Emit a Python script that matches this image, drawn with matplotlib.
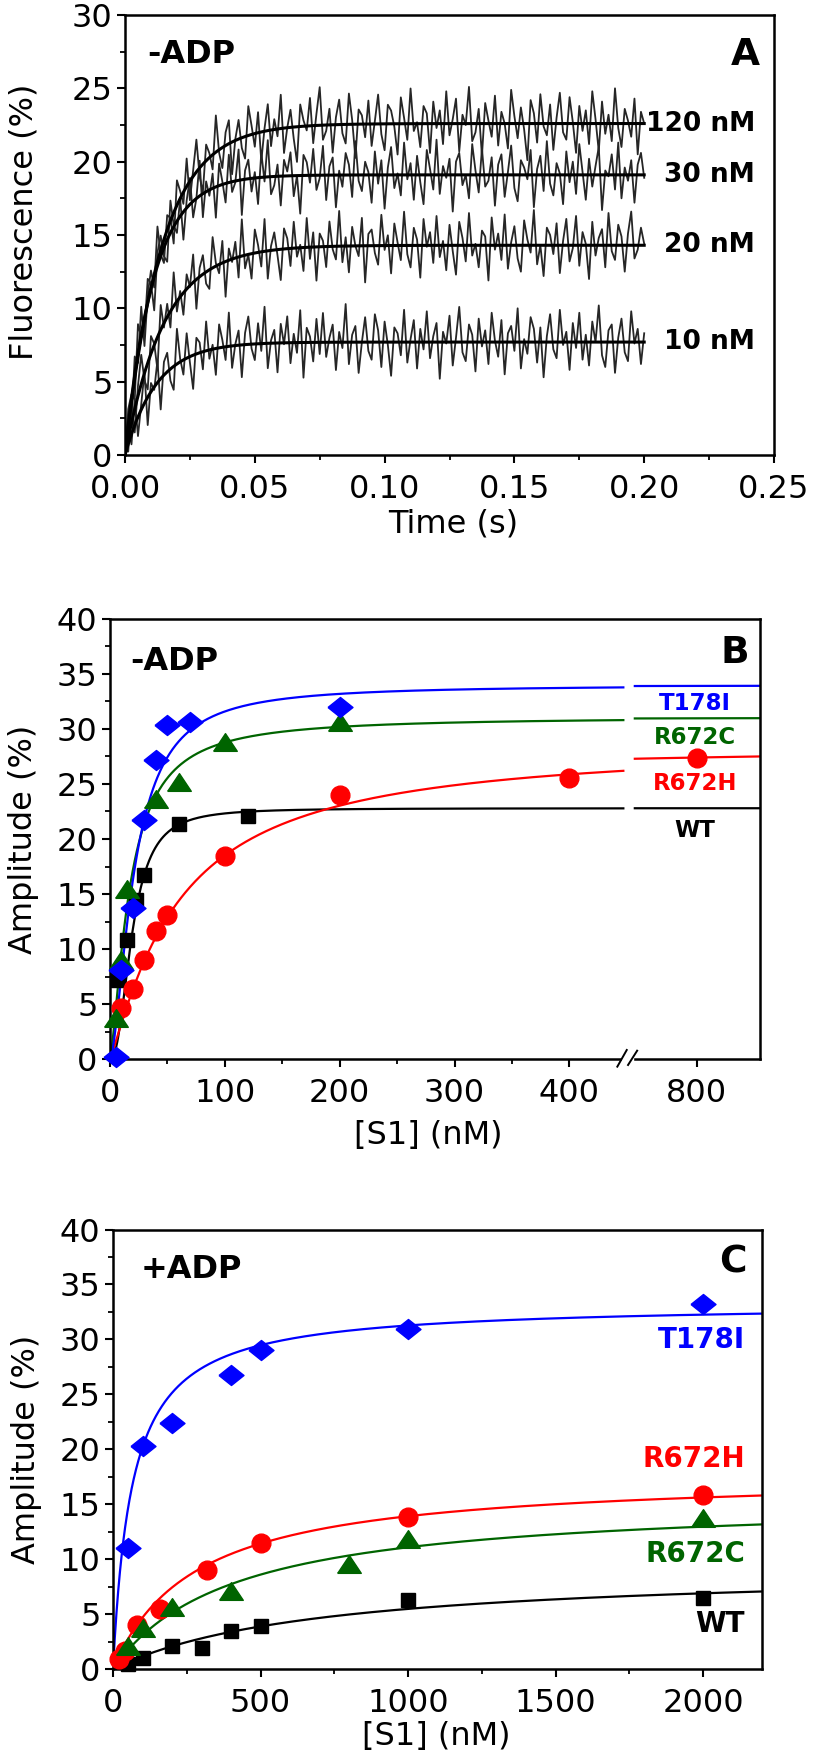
import numpy as np
import matplotlib
matplotlib.use("Agg")
import matplotlib.pyplot as plt
from matplotlib.patches import Rectangle

plt.rcParams["font.family"] = ["DejaVu Sans"]

# ── Panel A: stopped-flow traces, -ADP ─────────────────────────────
conc_labels = ["120 nM", "30 nM", "20 nM", "10 nM"]
trace_amp   = [22.6, 19.1, 14.3, 7.7]     # fitted plateau (%)
trace_rate  = [70, 90, 66, 82]            # fitted k_obs (1/s)

# residuals of each trace around its fit
dev_120 = [0.0, 0.8, -1.2, 1.5, -0.4, 2.1, -1.8, 0.6, 1.2, -0.9, 2.4, -0.3, -1.6, 1.0, 0.2, -2.1, 1.7, 0.5, -0.8, 1.9,
           -1.3, 0.4, 2.2, -0.6, -1.9, 1.1, 0.3, -1.0, 2.5, -0.2, -1.4, 0.9, 1.6, -2.2, 0.1, 1.3, -0.7, -1.5, 2.0, 0.6,
           -0.9, 1.4, -2.0, 0.2, 1.8, -1.1, 0.7, -0.5, 2.3, -1.7, 0.0, 1.2, -0.8, -2.4, 1.5, 0.4, -0.3, 1.9, -1.2, 0.8,
           2.6, -1.0, -0.4, 1.1, -1.9, 0.5, 1.7, -0.6, -1.3, 2.1, 0.3, -2.3, 1.0, 0.6, -0.9, 1.6, -1.5, 0.2, 2.0, -0.7,
           -1.8, 1.3, 0.9, -0.2, -2.1, 1.8, 0.4, -1.1, 2.4, -0.5, 0.1, -1.6, 1.2, 0.7, -2.0, 1.5, -0.3, 0.9, -1.4, 2.2,
           -0.8, 0.3, 1.7, -1.9, 0.6, -0.1, 2.5, -1.2, -0.6, 1.0, -2.2, 1.4, 0.2, -0.9, 1.9, -1.5, 0.8, 0.0, -1.7, 2.3,
           0.5, -1.0, 1.1, -0.4, -2.5, 1.6, 0.7, -1.3, 2.0, -0.2, -0.8, 1.3, -1.8, 0.4, 2.1, -0.6, -1.1, 1.8, 0.1, -2.0,
           1.2, -0.5, 0.9, -1.4, 2.2, 0.3, -1.9, 1.5, -0.7, 0.6, -1.2, 2.4, -0.3, -1.6, 1.0, 0.2, -0.9, 1.7, -2.1, 0.8, 0.0]
dev_30 = [-0.5, 1.1, 0.3, -1.7, 2.0, -0.2, -1.0, 1.6, 0.4, -2.3, 0.9, 1.4, -0.6, -1.5, 2.2, 0.1, -0.8, 1.2, -1.9, 0.5,
          1.8, -1.1, 0.0, 2.4, -1.6, 0.7, -0.4, 1.0, -2.1, 1.5, 0.2, -1.3, 1.9, -0.7, -0.1, 2.1, -2.4, 0.6, 1.3, -0.9,
          0.4, -1.8, 1.7, -0.3, 2.5, -1.2, -0.6, 0.8, -2.0, 1.1, 0.3, 1.6, -1.4, 0.0, -2.6, 1.4, 0.9, -0.5, 1.8, -1.0,
          -0.2, 2.0, -1.7, 0.6, 1.2, -2.2, 0.3, -0.8, 1.5, 0.7, -1.5, 2.3, -0.4, -1.1, 0.9, 0.2, -1.9, 1.6, -0.6, 1.0,
          -2.3, 0.5, 1.9, -0.9, 0.1, -1.4, 2.2, -0.3, 0.8, -1.7, 1.3, -0.5, -2.0, 1.7, 0.4, -1.0, 2.4, -1.3, 0.6, -0.2,
          1.1, -2.5, 0.9, 1.5, -0.7, 0.0, -1.6, 2.1, 0.3, -1.2, 1.8, -0.8, -0.4, 1.2, -2.1, 0.7, 1.4, -1.5, 0.2, 2.0,
          -0.9, -1.8, 1.0, 0.5, -0.3, 1.7, -2.2, 0.4, 1.3, -1.1, 2.3, -0.6, -1.4, 0.8, 0.1, -2.0, 1.6, -0.5, 0.9, -1.3,
          2.1, 0.2, -1.7, 1.1, -0.8, 0.6, 1.9, -2.4, 0.3, -0.1, 1.4, -1.0, 2.2, -1.6, 0.5, -0.4, 1.0, -1.9, 0.7, 1.5, -0.2]
dev_20 = [0.3, -0.9, 1.4, -1.6, 0.7, 2.0, -0.5, -1.8, 1.2, 0.1, -2.2, 1.7, -0.3, 0.9, -1.1, 2.3, -0.7, 0.4, -1.5, 1.0,
          -0.1, 1.9, -2.0, 0.6, 1.3, -0.8, -1.3, 2.1, 0.2, -0.6, 1.5, -2.4, 0.8, -0.2, 1.1, -1.4, 2.5, -0.9, 0.0, -1.7,
          1.6, 0.5, -1.0, 2.2, -1.9, 0.3, 1.2, -0.4, -2.1, 1.4, 0.7, -1.2, 1.8, -0.6, 0.2, -1.6, 2.0, -0.8, 1.0, -2.3,
          0.9, 0.4, -1.4, 1.7, -0.2, -0.9, 2.4, -1.1, 0.6, -1.8, 1.3, 0.0, -0.7, 1.9, -2.5, 0.8, 1.1, -0.5, -1.3, 2.1,
          -0.3, 0.7, -1.9, 1.5, 0.2, -1.0, 2.3, -0.6, -1.5, 1.2, 0.4, -2.2, 1.8, -0.1, 0.9, -1.2, 2.0, -0.8, 0.3, -1.7,
          1.4, -0.4, -2.0, 1.6, 0.5, -1.1, 2.2, -0.7, 0.1, -1.5, 1.0, 0.6, -2.4, 1.9, -0.3, 0.8, -1.0, 2.1, -1.6, 0.2,
          1.3, -0.9, -1.8, 1.7, 0.4, -0.5, 2.4, -1.3, 0.0, -2.1, 1.2, 0.7, -0.6, 1.5, -1.9, 0.3, 1.8, -1.1, -0.2, 2.0,
          -1.4, 0.9, 0.1, -2.3, 1.6, -0.7, 0.5, 1.1, -1.5, 2.2, -0.4, -1.0, 1.4, 0.6, -1.8, 0.8, 2.3, -0.9, -0.3, 1.2, 0.1]
dev_10 = [0.0, 1.2, -0.7, 1.8, -1.3, 0.4, 2.1, -1.9, 0.6, -0.2, 1.5, -2.1, 0.9, 1.3, -0.8, -1.6, 2.4, 0.2, -1.0, 1.7,
          -0.4, -2.3, 1.1, 0.7, -1.2, 2.0, -0.6, 0.3, -1.8, 1.6, 0.5, -0.9, 2.3, -1.5, 0.1, 1.0, -2.2, 0.8, 1.9, -0.3,
          -1.1, 1.4, -0.5, 2.5, -1.7, 0.2, 0.9, -2.0, 1.3, -0.1, 1.8, -1.4, 0.6, -0.7, 2.2, -2.4, 1.0, 0.4, -1.3, 1.6,
          -0.8, 2.0, -1.0, 0.3, 1.2, -1.9, 0.7, -0.4, 2.6, -1.5, 0.5, 1.1, -2.1, 0.0, 1.7, -0.6, -1.2, 1.9, 0.8, -1.7,
          1.4, -0.2, -2.3, 1.0, 0.6, -0.9, 2.2, -1.4, 0.2, 1.5, -1.8, 0.9, -0.5, 2.1, -1.1, 0.4, 1.3, -2.5, 0.7, -0.1,
          1.8, -1.6, 0.3, 2.4, -0.7, -1.3, 1.2, 0.5, -2.0, 1.6, -0.3, 0.8, -1.5, 2.0, 0.1, -1.0, 1.5, -2.2, 0.6, 1.1,
          -0.6, 2.3, -1.8, 0.2, -0.8, 1.7, 0.9, -1.4, 1.0, -2.4, 0.4, 1.9, -0.5, -1.1, 2.2, -0.2, 0.7, -1.9, 1.3, -0.4,
          2.0, -1.2, 0.5, -1.6, 1.4, 0.0, 2.5, -0.9, -1.7, 0.8, 1.2, -2.1, 0.3, 1.6, -0.7, -1.3, 2.1, -0.1, 0.9, -1.5, 0.6]
trace_devs = [dev_120, dev_30, dev_20, dev_10]
trace_end  = 0.2   # s

# ── Panel B: amplitude vs [S1], -ADP ───────────────────────────────
b_wt_x    = [7, 15, 23, 30, 60, 120]
b_wt_y    = [7.2, 10.8, 14.5, 16.7, 21.4, 22.1]
b_r672h_x = [10, 20, 30, 40, 50, 100, 200, 400, 800]
b_r672h_y = [4.6, 6.4, 9.0, 11.6, 13.1, 18.5, 24.0, 25.5, 27.4]
b_r672c_x = [5, 10, 15, 40, 60, 100, 200]
b_r672c_y = [3.7, 9.0, 15.5, 23.6, 25.2, 28.8, 30.6]
b_t178i_x = [5, 10, 20, 30, 40, 50, 70, 200]
b_t178i_y = [0.2, 8.1, 13.7, 21.7, 27.2, 30.4, 30.6, 32.0]
# fit parameters: Amax (%), K (nM), Hill n   order: WT, R672H, R672C, T178I
b_amax = [22.8, 28.8, 31.1, 34.0]
b_k    = [19.3, 60.0, 17.2, 21.0]
b_n    = [2.34, 1.15, 1.43, 1.65]

# ── Panel C: amplitude vs [S1], +ADP ───────────────────────────────
c_wt_x    = [50, 100, 200, 300, 400, 500, 1000, 2000]
c_wt_y    = [0.5, 1.0, 2.1, 1.9, 3.5, 3.9, 6.3, 6.5]
c_r672h_x = [20, 40, 80, 160, 320, 500, 1000, 2000]
c_r672h_y = [0.9, 1.6, 4.0, 5.5, 9.0, 11.5, 13.8, 15.8]
c_r672c_x = [50, 100, 200, 400, 800, 1000, 2000]
c_r672c_y = [2.1, 3.7, 5.6, 7.1, 9.6, 11.8, 13.7]
c_t178i_x = [50, 100, 200, 400, 500, 1000, 2000]
c_t178i_y = [11.0, 20.3, 22.4, 26.8, 29.0, 30.9, 33.2]
# hyperbolic fit: Amax (%), Kd (nM)     order: WT, R672H, R672C, T178I
c_amax = [9.3, 17.8, 15.6, 33.3]
c_kd   = [700, 280, 408, 65]

names  = ["WT", "R672H", "R672C", "T178I"]
colors = ["black", "#ff0000", "#006400", "#0000ff"]

DIAMOND  = [(-1, 0), (0, -0.8), (1, 0), (0, 0.8), (-1, 0)]
TRIANGLE = [(-1, -0.75), (1, -0.75), (0, 0.75), (-1, -0.75)]
markers  = ["s", "o", TRIANGLE, DIAMOND]
msizes   = [10.5, 13.5, 17, 18]

TICK_FS  = 23
LABEL_FS = 23


def hill(x, amax, k, n=1.0):
    x = np.asarray(x, float)
    return amax * x**n / (k**n + x**n)


def style_axes(ax):
    for sp in ax.spines.values():
        sp.set_linewidth(1.8)
    ax.tick_params(which="major", direction="out", length=6, width=1.5,
                   labelsize=TICK_FS, top=False, right=False)
    ax.tick_params(which="minor", direction="out", length=3.5, width=1.3,
                   top=False, right=False)
    ax.tick_params(axis="x", which="major", pad=8)
    ax.tick_params(axis="y", which="major", pad=3)


fig = plt.figure(figsize=(8.16, 17.64), dpi=100)

# ── A ─────────────────────────────────────────────────────────────
axA = fig.add_axes([125 / 816, 1 - 455 / 1764, 649 / 816, 440 / 1764])
for amp, k, dev, lab in zip(trace_amp, trace_rate, trace_devs, conc_labels):
    t = np.linspace(0, trace_end, len(dev))
    axA.plot(t, amp * (1 - np.exp(-k * t)) + np.array(dev),
             color="#262626", lw=1.3, zorder=2)
for amp, k, lab in zip(trace_amp, trace_rate, conc_labels):
    tf = np.linspace(0, trace_end, 400)
    axA.plot(tf, amp * (1 - np.exp(-k * tf)), color="black", lw=2.2, zorder=3)
    axA.text(0.2427, amp, lab, ha="right", va="center", fontsize=19,
             fontweight="bold")
axA.set_xlim(0, 0.25)
axA.set_ylim(0, 30)
axA.set_xticks([0, 0.05, 0.10, 0.15, 0.20, 0.25],
               ["0.00", "0.05", "0.10", "0.15", "0.20", "0.25"])
axA.set_xticks(np.arange(0.025, 0.25, 0.05), minor=True)
axA.set_yticks(np.arange(0, 31, 5))
axA.set_yticks(np.arange(2.5, 30, 5), minor=True)
style_axes(axA)
axA.set_xlabel("Time (s)", fontsize=LABEL_FS)
axA.set_ylabel("Fluorescence (%)", fontsize=LABEL_FS)
axA.xaxis.set_label_coords(0.505, -0.122)
axA.yaxis.set_label_coords(-0.1325, 0.53)
axA.text(0.035, 0.91, "-ADP", transform=axA.transAxes, ha="left",
         va="center", fontsize=23, fontweight="bold")
axA.text(0.978, 0.908, "A", transform=axA.transAxes, ha="right",
         va="center", fontsize=27, fontweight="bold")

# ── B (broken x axis between 447 and 746 nM) ─────────────────────
def fwd(x):
    x = np.asarray(x, float)
    return np.where(x <= 447, x,
                    np.where(x >= 746, x - 289, 447 + (x - 447) * 10 / 299))


def inv(y):
    y = np.asarray(y, float)
    return np.where(y <= 447, y,
                    np.where(y >= 457, y + 289, 447 + (y - 447) * 29.9))


axB = fig.add_axes([110 / 816, 1 - 1059 / 1764, 650 / 816, 440 / 1764])
axB.set_xscale("function", functions=(fwd, inv))
b_x = [b_wt_x, b_r672h_x, b_r672c_x, b_t178i_x]
b_y = [b_wt_y, b_r672h_y, b_r672c_y, b_t178i_y]
seg1 = np.linspace(0, 447, 500)
seg2 = np.linspace(746, 855, 60)
for i in range(4):
    for seg in (seg1, seg2):
        axB.plot(seg, hill(seg, b_amax[i], b_k[i], b_n[i]), color=colors[i],
                 lw=1.6, zorder=2)
for i in range(4):
    axB.plot(b_x[i], b_y[i], ls="none", marker=markers[i], ms=msizes[i],
             color=colors[i], mec=colors[i], clip_on=False, zorder=3)
axB.set_xlim(0, 855)
axB.set_ylim(0, 40)
axB.set_xticks([0, 100, 200, 300, 400, 800])
axB.set_xticks([50, 150, 250, 350], minor=True)
axB.set_yticks(np.arange(0, 41, 5))
axB.set_yticks(np.arange(2.5, 40, 5), minor=True)
style_axes(axB)
axB.set_xlabel("[S1] (nM)", fontsize=LABEL_FS)
axB.set_ylabel("Amplitude (%)", fontsize=LABEL_FS)
axB.xaxis.set_label_coords(0.49, -0.138)
axB.yaxis.set_label_coords(-0.109, 0.5)
# axis break marks
axB.add_patch(Rectangle((0.7877, -0.015), 0.017, 0.03, transform=axB.transAxes,
                        color="white", clip_on=False, zorder=5))
for x0, y0, x1, y1 in [(0.7805, -0.0174, 0.795, 0.0205),
                       (0.797, -0.0136, 0.811, 0.0189)]:
    axB.plot([x0, x1], [y0, y1], color="black", lw=1.4,
             transform=axB.transAxes, clip_on=False, zorder=6)
axB.text(0.031, 0.903, "-ADP", transform=axB.transAxes, ha="left",
         va="center", fontsize=23, fontweight="bold")
axB.text(0.983, 0.923, "B", transform=axB.transAxes, ha="right",
         va="center", fontsize=27, fontweight="bold")
b_label_y = [20.8, 25.0, 29.2, 32.3]
for i in range(4):
    axB.text(0.9, b_label_y[i], names[i], transform=axB.get_yaxis_transform(),
             ha="center", va="center", fontsize=16.5, fontweight="bold",
             color=colors[i])

# ── C ─────────────────────────────────────────────────────────────
axC = fig.add_axes([113 / 816, 1 - 1669 / 1764, 649 / 816, 439.5 / 1764])
c_x = [c_wt_x, c_r672h_x, c_r672c_x, c_t178i_x]
c_y = [c_wt_y, c_r672h_y, c_r672c_y, c_t178i_y]
xs = np.linspace(0, 2200, 1500)
for i in range(4):
    axC.plot(xs, hill(xs, c_amax[i], c_kd[i]), color=colors[i], lw=1.6, zorder=2)
for i in range(4):
    axC.plot(c_x[i], c_y[i], ls="none", marker=markers[i], ms=msizes[i],
             color=colors[i], mec=colors[i], clip_on=False, zorder=3)
axC.set_xlim(0, 2200)
axC.set_ylim(0, 40)
axC.set_xticks([0, 500, 1000, 1500, 2000])
axC.set_xticks([250, 750, 1250, 1750], minor=True)
axC.set_yticks(np.arange(0, 41, 5))
axC.set_yticks(np.arange(2.5, 40, 5), minor=True)
style_axes(axC)
axC.set_xlabel("[S1] (nM)", fontsize=LABEL_FS)
axC.set_ylabel("Amplitude (%)", fontsize=LABEL_FS)
axC.xaxis.set_label_coords(0.498, -0.118)
axC.yaxis.set_label_coords(-0.109, 0.5)
axC.text(0.042, 0.908, "+ADP", transform=axC.transAxes, ha="left",
         va="center", fontsize=23, fontweight="bold")
axC.text(0.977, 0.924, "C", transform=axC.transAxes, ha="right",
         va="center", fontsize=27, fontweight="bold")
c_label_y = [4.1, 19.1, 10.5, 29.9]
for i in range(4):
    axC.text(0.974, c_label_y[i], names[i], transform=axC.get_yaxis_transform(),
             ha="right", va="center", fontsize=20, fontweight="bold",
             color=colors[i])

fig.savefig("out.png", dpi=100)
